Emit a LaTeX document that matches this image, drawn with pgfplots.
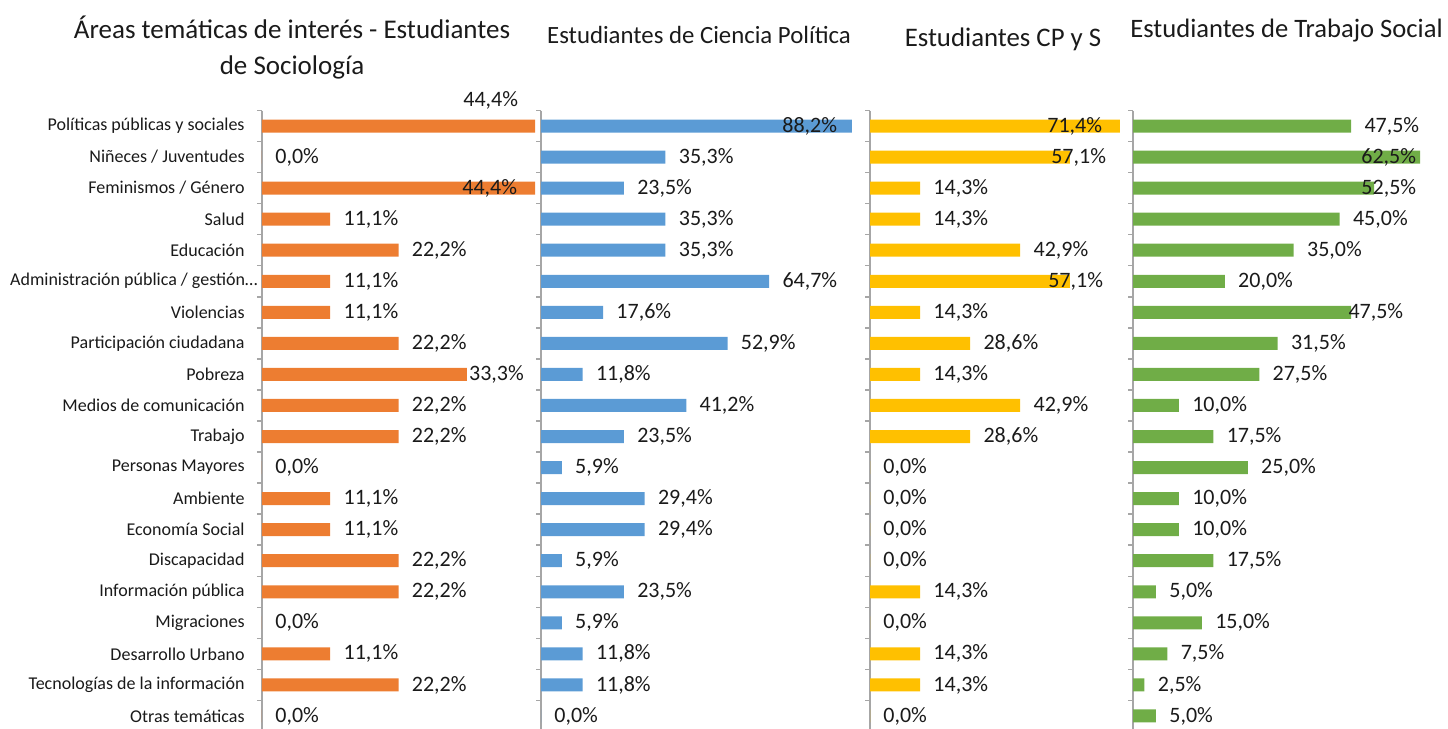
\documentclass[border=0pt]{standalone}
\usepackage{pgfplots}
\pgfplotsset{compat=1.18}
\usepackage{pgfplotstable}
\usepackage{fontspec}
\setmainfont{Carlito}
\definecolor{cOrange}{HTML}{ED7D31}
\definecolor{cBlue}{HTML}{5B9BD5}
\definecolor{cGold}{HTML}{FFC000}
\definecolor{cGreen}{HTML}{70AD47}
\definecolor{axisgray}{HTML}{A6A6A6}
\definecolor{txt}{HTML}{1A1A1A}

% idx = category (0 = top), val = percentage, dx/dy = label offset in pt
\pgfplotstableread{
idx val dx dy
0 44.4 -36 13
1 0.0 6.5 0
2 44.4 -36.5 0
3 11.1 6.5 0
4 22.2 6.5 0
5 11.1 6.5 0
6 11.1 6.5 0
7 22.2 6.5 0
8 33.3 1 0
9 22.2 6.5 0
10 22.2 6.5 0
11 0.0 6.5 0
12 11.1 6.5 0
13 11.1 6.5 0
14 22.2 6.5 0
15 22.2 6.5 0
16 0.0 6.5 0
17 11.1 6.5 0
18 22.2 6.5 0
19 0.0 6.5 0
}\soc

\pgfplotstableread{
idx val dx dy
0 88.2 -35 0
1 35.3 6.5 0
2 23.5 6.5 0
3 35.3 6.5 0
4 35.3 6.5 0
5 64.7 6.5 0
6 17.6 6.5 0
7 52.9 6.5 0
8 11.8 6.5 0
9 41.2 6.5 0
10 23.5 6.5 0
11 5.9 6.5 0
12 29.4 6.5 0
13 29.4 6.5 0
14 5.9 6.5 0
15 23.5 6.5 0
16 5.9 6.5 0
17 11.8 6.5 0
18 11.8 6.5 0
19 0.0 6.5 0
}\cp

\pgfplotstableread{
idx val dx dy
0 71.4 -36.5 0
1 57.1 -9.5 0
2 14.3 6.5 0
3 14.3 6.5 0
4 42.9 6.5 0
5 57.1 -11 0
6 14.3 6.5 0
7 28.6 6.5 0
8 14.3 6.5 0
9 42.9 6.5 0
10 28.6 6.5 0
11 0.0 6.5 0
12 0.0 6.5 0
13 0.0 6.5 0
14 0.0 6.5 0
15 14.3 6.5 0
16 0.0 6.5 0
17 14.3 6.5 0
18 14.3 6.5 0
19 0.0 6.5 0
}\cpys

\pgfplotstableread{
idx val dx dy
0 47.5 6.5 0
1 62.5 -29.5 0
2 52.5 -6.5 0
3 45.0 6.5 0
4 35.0 6.5 0
5 20.0 6.5 0
6 47.5 -1.5 0
7 31.5 6.5 0
8 27.5 6.5 0
9 10.0 6.5 0
10 17.5 6.5 0
11 25.0 6.5 0
12 10.0 6.5 0
13 10.0 6.5 0
14 17.5 6.5 0
15 5.0 6.5 0
16 15.0 6.5 0
17 7.5 6.5 0
18 2.5 6.5 0
19 5.0 6.5 0
}\ts

\pgfplotsset{
  panel/.style={
    scale only axis, height=309.25pt,
    ymin=-0.5, ymax=19.42, y dir=reverse,
    xmin=0, enlargelimits=false, clip=false,
    hide x axis, axis y line*=left,
    y axis line style={draw=axisgray, line width=0.7pt},
    ytick={0,...,19}, major tick length=0pt, yticklabels={},
    yticklabel style={inner sep=0pt, xshift=-8.5pt, font=\fontsize{9}{11}\selectfont, text=txt},
    extra y ticks={-0.5,0.5,...,18.5}, extra y tick labels={},
    extra y tick style={major tick length=2.5pt, ytick style={draw=axisgray, line width=0.7pt}},
    tick align=outside,
    anchor=south west,
    title style={text=txt, align=center, anchor=center},
  },
  barplot/.style={
    xbar, bar width=6.5pt, bar shift=0pt, draw=none, fill=#1,
    point meta=x,
    visualization depends on={\thisrow{dx} \as \labdx},
    visualization depends on={\thisrow{dy} \as \labdy},
    nodes near coords={\pgfmathprintnumber[fixed, fixed zerofill, precision=1, use comma, assume math mode=true]{\pgfplotspointmeta}\%},
    every node near coord/.append style={anchor=west, inner sep=0pt, xshift=\labdx pt, yshift=\labdy pt, font=\fontsize{11}{13}\selectfont, text=txt},
  },
}

\begin{document}
\begin{tikzpicture}
\useasboundingbox (0,0) rectangle (724pt,364.5pt);

\begin{axis}[panel, at={(131pt,0pt)}, width=136.5pt, xmax=44.4,
  yticklabels={Políticas públicas y sociales, Niñeces / Juventudes, Feminismos / Género, Salud, Educación, {Administración pública / gestión…\hspace*{-6.5pt}}, Violencias, Participación ciudadana, Pobreza, Medios de comunicación, Trabajo, Personas Mayores, Ambiente, Economía Social, Discapacidad, Información pública, Migraciones, Desarrollo Urbano, Tecnologías de la información, Otras temáticas},
  title={Áreas temáticas de interés - Estudiantes\\de Sociología},
  title style={at={(0.11,1)}, yshift=25.25pt, font=\fontsize{13.5}{18}\selectfont}]
\addplot[barplot=cOrange] table[x=val, y=idx] {\soc};
\end{axis}

\begin{axis}[panel, at={(270.5pt,0pt)}, width=155.5pt, xmax=88.2,
  title={Estudiantes de Ciencia Política},
  title style={at={(0.508,1)}, yshift=31.75pt, font=\fontsize{12.4}{15}\selectfont}]
\addplot[barplot=cBlue] table[x=val, y=idx] {\cp};
\end{axis}

\begin{axis}[panel, at={(435pt,0pt)}, width=125pt, xmax=71.4,
  title={Estudiantes CP y S},
  title style={at={(0.532,1)}, yshift=29.75pt, font=\fontsize{13.4}{16}\selectfont}]
\addplot[barplot=cGold] table[x=val, y=idx] {\cpys};
\end{axis}

\begin{axis}[panel, at={(566.5pt,0pt)}, width=143.5pt, xmax=62.5,
  title={Estudiantes de Trabajo Social},
  title style={at={(0.535,1)}, yshift=33.75pt, font=\fontsize{13.3}{16}\selectfont}]
\addplot[barplot=cGreen] table[x=val, y=idx] {\ts};
\end{axis}
\end{tikzpicture}
\end{document}
